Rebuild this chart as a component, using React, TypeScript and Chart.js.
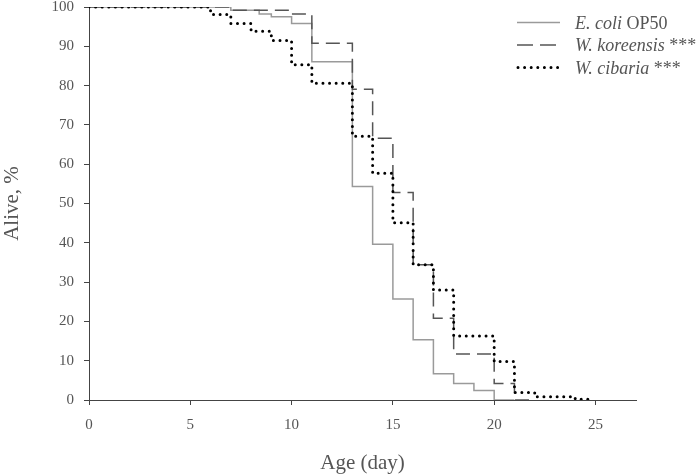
import React, { useEffect, useRef } from "react";
import { Chart, registerables } from "chart.js";

Chart.register(...registerables);

// Kaplan–Meier style survival data (day of step, % alive after step)
const ecoliDays = [0, 7, 8.4, 9, 10, 11, 13, 14, 15, 16, 17, 18, 19, 20, 21];
const ecoliAlive = [100, 99.2, 98.2, 97.5, 95.8, 86.1, 54.3, 39.6, 25.7, 15.3, 6.7, 4.2, 2.4, 0, 0];

const koreensisDays = [0, 7, 10, 11, 13, 14, 15, 16, 17, 18, 20, 21, 22];
const koreensisAlive = [100, 99.2, 98.2, 90.8, 79.1, 66.6, 52.8, 34.4, 20.8, 11.7, 4.2, 0, 0];

const cibariaDays = [0, 6, 7, 8, 9, 10, 11, 13, 14, 15, 16, 17, 18, 20, 21, 22, 24, 24.8];
const cibariaAlive = [100, 98.1, 95.8, 93.8, 91.5, 85.3, 80.6, 67.1, 57.7, 45.1, 34.4, 28.0, 16.3, 9.8, 1.9, 0.8, 0.2, 0.2];

const legendItalic = ["E. coli", "W. koreensis", "W. cibaria"];
const legendSuffix = [" OP50", " ***", " ***"];

const xTitle = "Age (day)";
const yTitle = "Alive, %";

const FONT = "'Liberation Serif', 'DejaVu Serif', serif";

const toPoints = (xs: number[], ys: number[]) => xs.map((x, i) => ({ x, y: ys[i] }));

const legendPlugin = {
  id: "kmLegend",
  afterDraw(chart: any) {
    const ctx = chart.ctx as CanvasRenderingContext2D;
    ctx.save();
    const rows = [22.5, 45, 67.5];
    const x0 = 517;
    const x1 = 560;
    // solid
    ctx.strokeStyle = "#9a9a9a";
    ctx.lineWidth = 1.5;
    ctx.setLineDash([]);
    ctx.beginPath();
    ctx.moveTo(x0, rows[0]);
    ctx.lineTo(x1, rows[0]);
    ctx.stroke();
    // dashed
    ctx.strokeStyle = "#555";
    ctx.setLineDash([16, 7]);
    ctx.beginPath();
    ctx.moveTo(x0, rows[1]);
    ctx.lineTo(x1, rows[1]);
    ctx.stroke();
    // dotted
    ctx.strokeStyle = "#000";
    ctx.lineWidth = 3;
    ctx.lineCap = "round";
    ctx.setLineDash([0, 6.6]);
    ctx.beginPath();
    ctx.moveTo(x0 + 1, rows[2]);
    ctx.lineTo(x1, rows[2]);
    ctx.stroke();
    ctx.setLineDash([]);
    // texts
    ctx.fillStyle = "#555";
    ctx.textBaseline = "alphabetic";
    ctx.textAlign = "left";
    for (let i = 0; i < 3; i++) {
      const by = rows[i] + 6;
      ctx.font = `italic 18px ${FONT}`;
      ctx.fillText(legendItalic[i], 575, by);
      const w = ctx.measureText(legendItalic[i]).width;
      ctx.font = `18px ${FONT}`;
      ctx.fillText(legendSuffix[i], 575 + w, by);
    }
    ctx.restore();
  },
};

export default function App() {
  const ref = useRef<HTMLCanvasElement | null>(null);

  useEffect(() => {
    document.body.style.margin = "0";
    const canvas = ref.current;
    if (!canvas) return;
    const chart = new Chart(canvas, {
      type: "line",
      data: {
        datasets: [
          {
            label: "W. cibaria ***",
            data: toPoints(cibariaDays, cibariaAlive),
            stepped: "before",
            borderColor: "#000",
            borderWidth: 3,
            borderDash: [0, 6.6],
            borderCapStyle: "round",
            borderJoinStyle: "round",
            pointRadius: 0,
            fill: false,
          },
          {
            label: "W. koreensis ***",
            data: toPoints(koreensisDays, koreensisAlive),
            stepped: "before",
            borderColor: "#555",
            borderWidth: 1.5,
            borderDash: [14, 7],
            pointRadius: 0,
            fill: false,
          },
          {
            label: "E. coli OP50",
            data: toPoints(ecoliDays, ecoliAlive),
            stepped: "before",
            borderColor: "#9a9a9a",
            borderWidth: 1.5,
            pointRadius: 0,
            fill: false,
          },
        ],
      },
      options: {
        animation: false,
        responsive: false,
        devicePixelRatio: 1,
        layout: { padding: { top: 7, right: 64, left: 0, bottom: 0 } },
        plugins: {
          legend: { display: false },
          tooltip: { enabled: false },
        },
        scales: {
          x: {
            type: "linear",
            min: 0,
            max: 27,
            grid: { drawOnChartArea: false, drawTicks: true, tickLength: 5, color: "#444" },
            border: { display: true, color: "#444", width: 1 },
            ticks: {
              stepSize: 5,
              includeBounds: false,
              padding: 11,
              color: "#555",
              font: { family: FONT, size: 15 },
              maxRotation: 0,
            },
            title: {
              display: true,
              text: xTitle,
              color: "#555",
              font: { family: FONT, size: 21 },
              padding: 0,
            },
            afterFit(scale: any) {
              scale.height = 76;
              scale.paddingLeft = 0;
              scale.paddingRight = 0;
            },
          },
          y: {
            type: "linear",
            min: 0,
            max: 100,
            grid: { drawOnChartArea: false, drawTicks: true, tickLength: 5, color: "#444" },
            border: { display: true, color: "#444", width: 1 },
            ticks: {
              stepSize: 10,
              padding: 10,
              color: "#555",
              font: { family: FONT, size: 15 },
            },
            title: {
              display: true,
              text: yTitle,
              color: "#555",
              font: { family: FONT, size: 21 },
              padding: 0,
            },
            afterFit(scale: any) {
              scale.width = 89;
              scale.paddingTop = 0;
              scale.paddingBottom = 0;
            },
          },
        },
      },
      plugins: [legendPlugin],
    });
    return () => chart.destroy();
  }, []);

  return (
    <div style={{ position: "absolute", left: 0, top: 0, width: 700, height: 476, background: "#fff" }}>
      <canvas ref={ref} width={700} height={476} style={{ width: 700, height: 476 }} />
    </div>
  );
}
